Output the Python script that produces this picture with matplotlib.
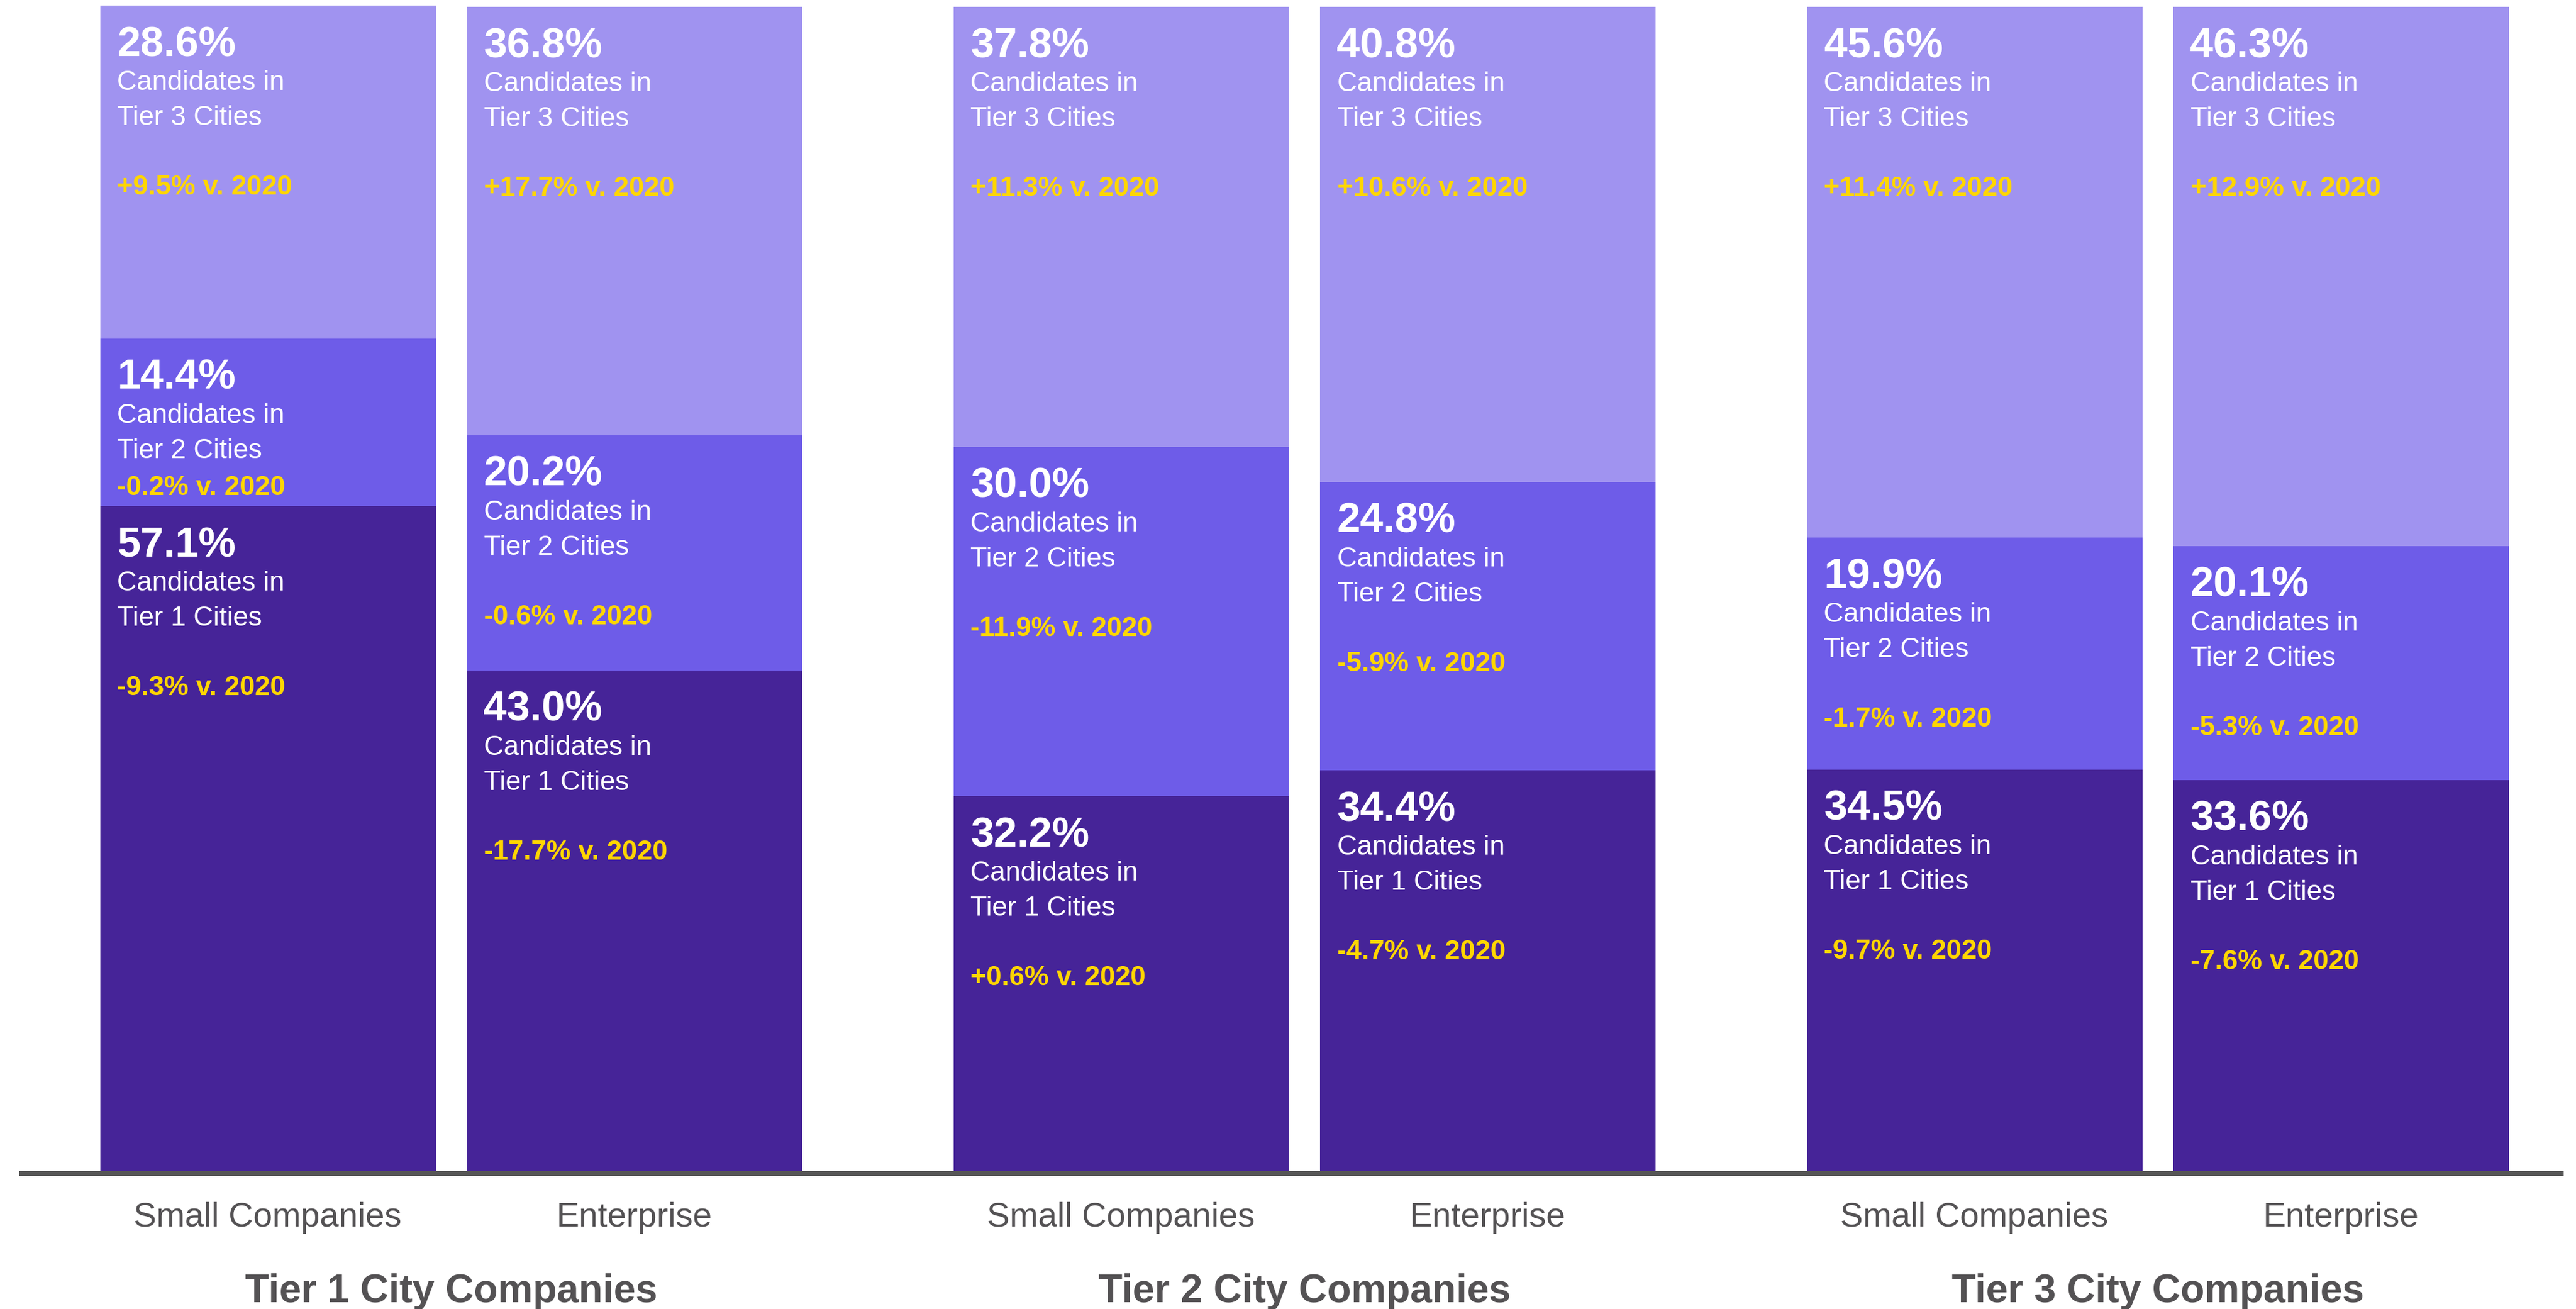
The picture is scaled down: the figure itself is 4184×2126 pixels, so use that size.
import matplotlib.pyplot as plt

# categories
groups = ['Tier 1 City Companies', 'Tier 2 City Companies', 'Tier 3 City Companies']
sizes = ['Small Companies', 'Enterprise']

# share of candidates (%) per bar, bottom to top segment
tier1_share = [57.1, 43.0, 32.2, 34.4, 34.5, 33.6]
tier2_share = [14.4, 20.2, 30.0, 24.8, 19.9, 20.1]
tier3_share = [28.6, 36.8, 37.8, 40.8, 45.6, 46.3]

# change vs 2020
tier1_chg = ['-9.3%', '-17.7%', '+0.6%', '-4.7%', '-9.7%', '-7.6%']
tier2_chg = ['-0.2%', '-0.6%', '-11.9%', '-5.9%', '-1.7%', '-5.3%']
tier3_chg = ['+9.5%', '+17.7%', '+11.3%', '+10.6%', '+11.4%', '+12.9%']

plt.rcParams['font.family'] = ['Liberation Sans', 'DejaVu Sans']

W, H = 4184, 2126
fig = plt.figure(figsize=(W / 100, H / 100), dpi=100)
base_px, top_px = 1902, 11
ax = fig.add_axes([0, (H - base_px) / H, 1, (base_px - top_px) / H])
ax.set_xlim(0, W)
ax.set_ylim(0, 100)
ax.axis('off')
px_per_unit = (base_px - top_px) / 100

c_dark, c_mid, c_light = '#462498', '#6E5CE8', '#A093F0'
yellow = '#FFD600'
gray = '#545254'

bar_w = 545
first_x, pair_gap, group_gap = 435, 595, 1386
xs = [first_x + g * group_gap + j * pair_gap for g in range(len(groups)) for j in range(len(sizes))]

segments = [
    (tier1_share, tier1_chg, c_dark, 'Tier 1 Cities'),
    (tier2_share, tier2_chg, c_mid, 'Tier 2 Cities'),
    (tier3_share, tier3_chg, c_light, 'Tier 3 Cities'),
]

bottom = [0.0] * len(xs)
for vals, chgs, col, name in segments:
    ax.bar(xs, vals, width=bar_w, bottom=bottom, color=col, linewidth=0, clip_on=False)
    for i, x in enumerate(xs):
        top = bottom[i] + vals[i]
        left = x - bar_w / 2
        seg_px = vals[i] * px_per_unit
        kw = dict(xy=(left, top), textcoords='offset pixels', ha='left', va='baseline',
                  annotation_clip=False)
        ax.annotate(f'{vals[i]:.1f}%', xytext=(28, -82), fontsize=49,
                    fontweight='bold', color='white', **kw)
        ax.annotate('Candidates in', xytext=(28, -137), fontsize=32, color='white', **kw)
        ax.annotate(name, xytext=(28, -194), fontsize=32, color='white', **kw)
        off = min(307, seg_px - 18)
        ax.annotate(f'{chgs[i]} v. 2020', xytext=(28, -off), fontsize=32,
                    fontweight='bold', color=yellow, **kw)
        bottom[i] = top

# baseline
ax.plot([31, 4164], [-4 / px_per_unit] * 2, color='#555555', linewidth=8 * 0.72,
        solid_capstyle='butt', clip_on=False, zorder=3)

# bar and group labels
for i, x in enumerate(xs):
    ax.annotate(sizes[i % 2], xy=(x, 0), xytext=(0, -90), textcoords='offset pixels',
                ha='center', va='baseline', fontsize=40, color=gray, annotation_clip=False)
for g, name in enumerate(groups):
    cx = (xs[2 * g] + xs[2 * g + 1]) / 2
    ax.annotate(name, xy=(cx, 0), xytext=(0, -213), textcoords='offset pixels',
                ha='center', va='baseline', fontsize=46, fontweight='bold', color=gray,
                annotation_clip=False)

fig.savefig('out.png', dpi=100, facecolor='white')
